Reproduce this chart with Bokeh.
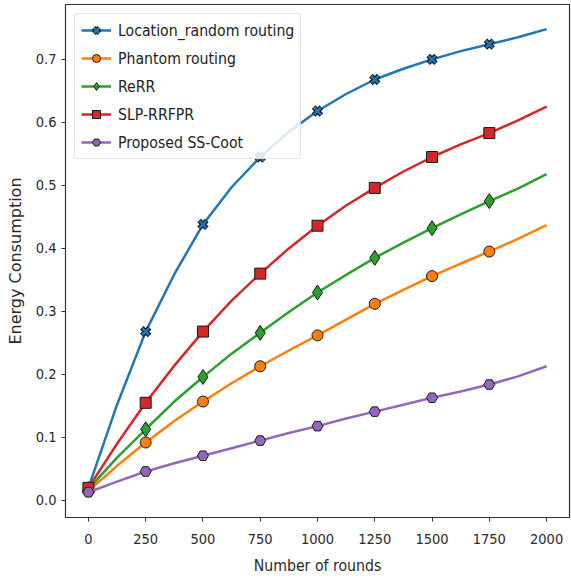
from bokeh.plotting import figure
from bokeh.models import Range1d, FixedTicker, Legend, LegendItem, PrintfTickFormatter
from bokeh.embed import file_html
from bokeh.resources import INLINE

rounds = [0, 125, 250, 375, 500, 625, 750, 875, 1000, 1125, 1250, 1375, 1500, 1625, 1750, 1875, 2000]
location_random = [0.020, 0.152, 0.268, 0.359, 0.438, 0.497, 0.545, 0.585, 0.618, 0.645, 0.668, 0.685, 0.700, 0.713, 0.724, 0.735, 0.748]
phantom = [0.015, 0.055, 0.092, 0.126, 0.157, 0.186, 0.213, 0.238, 0.262, 0.287, 0.312, 0.334, 0.356, 0.376, 0.395, 0.415, 0.437]
rerr = [0.018, 0.068, 0.113, 0.157, 0.196, 0.233, 0.266, 0.299, 0.330, 0.358, 0.385, 0.409, 0.432, 0.454, 0.475, 0.495, 0.518]
slp_rrfpr = [0.020, 0.090, 0.155, 0.214, 0.268, 0.317, 0.360, 0.400, 0.436, 0.468, 0.496, 0.522, 0.545, 0.565, 0.583, 0.603, 0.625]
ss_coot = [0.013, 0.030, 0.046, 0.059, 0.071, 0.083, 0.095, 0.107, 0.118, 0.130, 0.141, 0.152, 0.163, 0.173, 0.184, 0.197, 0.213]

labels = ["Location_random routing", "Phantom routing", "ReRR", "SLP-RRFPR", "Proposed SS-Coot"]
colors = ["#1f77b4", "#ff7f0e", "#2ca02c", "#d62728", "#9467bd"]
markers = ["x", "circle", "diamond", "square", "hex"]
series = [location_random, phantom, rerr, slp_rrfpr, ss_coot]

FONT = "DejaVu Sans Condensed"

p = figure(width=571, height=578, output_backend="svg", toolbar_location=None,
           x_range=Range1d(-100, 2100), y_range=Range1d(-0.027, 0.787),
           min_border_left=65, min_border_right=2, min_border_top=4, min_border_bottom=61)
p.grid.visible = False
p.outline_line_color = "#333333"
p.outline_line_width = 1.2
p.background_fill_color = "white"
p.border_fill_color = "white"

p.xaxis.ticker = FixedTicker(ticks=[0, 250, 500, 750, 1000, 1250, 1500, 1750, 2000])
p.yaxis.ticker = FixedTicker(ticks=[0.0, 0.1, 0.2, 0.3, 0.4, 0.5, 0.6, 0.7])
p.yaxis.formatter = PrintfTickFormatter(format="%.1f")
for ax in (p.xaxis, p.yaxis):
    ax.minor_tick_line_color = None
    ax.major_tick_out = 4
    ax.major_tick_in = 0
    ax.axis_line_color = "#333333"
    ax.major_tick_line_color = "#333333"
    ax.major_label_text_font = FONT
    ax.major_label_text_font_size = "14.5px"
    ax.major_label_text_color = "#2a2a2a"
    ax.axis_label_text_font_style = "normal"
    ax.axis_label_text_color = "#2a2a2a"
p.xaxis.axis_label = "Number of rounds"
p.xaxis.axis_label_text_font = FONT
p.xaxis.axis_label_text_font_size = "15.7px"
p.xaxis.major_label_standoff = 12
p.xaxis.axis_label_standoff = 9
p.yaxis.axis_label = "Energy Consumption"
p.yaxis.axis_label_text_font = "DejaVu Sans"
p.yaxis.axis_label_text_font_size = "16px"
p.yaxis.axis_label_standoff = 8

items = []
for lbl, col, mk, ys in zip(labels, colors, markers, series):
    mx = rounds[0:15:2]
    my = ys[0:15:2]
    r_line = p.line(rounds, ys, line_color=col, line_width=2.5)
    rends = [r_line]
    if mk == "x":
        r1 = p.scatter(mx, my, marker="x", size=11, line_color="#1a1a1a", line_width=5)
        r2 = p.scatter(mx, my, marker="x", size=10, line_color=col, line_width=2.5)
        rends += [r1, r2]
    else:
        sz = {"circle": 11, "diamond": 15, "square": 11, "hex": 11}[mk]
        r1 = p.scatter(mx, my, marker=mk, size=sz, fill_color=col, line_color="#1a1a1a", line_width=1)
        rends.append(r1)
    items.append(LegendItem(label=lbl, renderers=rends))

legend = Legend(items=items, location="top_left")
legend.label_text_font = FONT
legend.label_text_font_size = "15.7px"
legend.label_text_color = "#222222"
legend.glyph_width = 30
legend.glyph_height = 20
legend.spacing = 8
legend.padding = 6
legend.margin = 9
legend.border_line_color = "#cccccc"
legend.border_line_width = 1
legend.border_radius = 3
legend.background_fill_alpha = 0.85
legend.label_standoff = 7
p.add_layout(legend)

open("out.html", "w").write(file_html(p, INLINE))
